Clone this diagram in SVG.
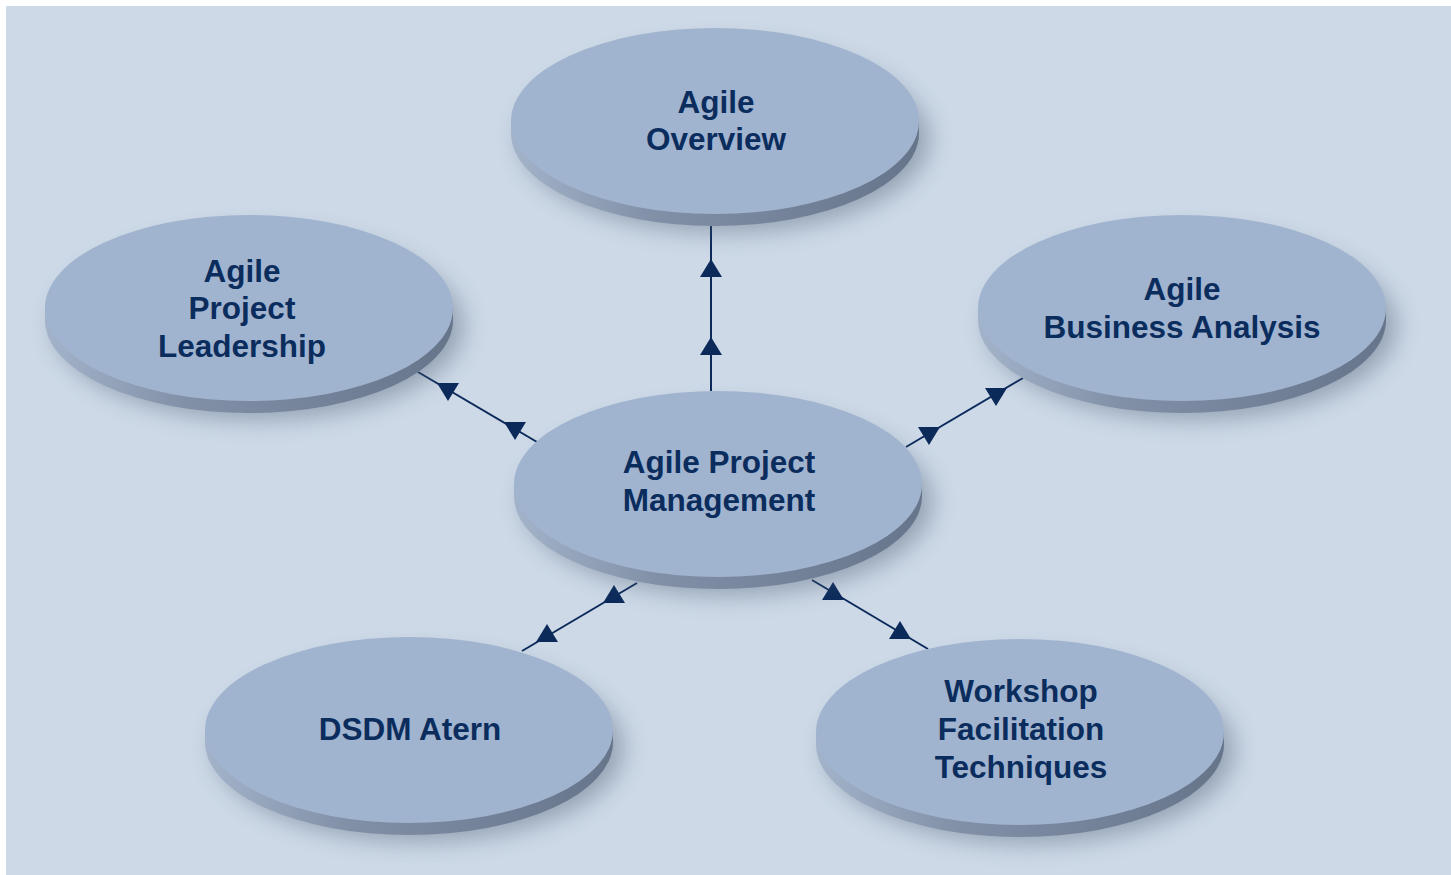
<svg xmlns="http://www.w3.org/2000/svg" xmlns:xlink="http://www.w3.org/1999/xlink" width="1451" height="875" viewBox="0 0 1451 875">
<style>
.face{fill:#a1b4cf;}
.side{fill:url(#sideGrad);}
.shadow{fill:#4a5a70;opacity:0.45;filter:url(#blur);}
.lbl{font-family:"Liberation Sans",Arial,sans-serif;font-weight:bold;font-size:31.5px;fill:#0b2d5e;text-anchor:middle;}
.conn line{stroke:#0b2a5a;stroke-width:2;}
.conn use{fill:#0b2a5a;}
</style>
<defs>
<linearGradient id="sideGrad" x1="0" y1="0" x2="1" y2="0">
<stop offset="0" stop-color="#a3b3ca"/>
<stop offset="0.35" stop-color="#8190a7"/>
<stop offset="1" stop-color="#66758a"/>
</linearGradient>
<filter id="blur" x="-20%" y="-30%" width="140%" height="160%">
<feGaussianBlur stdDeviation="12"/>
</filter>
<polygon id="up" points="0,-12 11,6 -11,6"/>
<polygon id="down" points="-11,-6 11,-6 0,12"/>
<g id="disc">
<ellipse class="shadow" cx="10" cy="18" rx="204" ry="93"/>
<ellipse class="side" cx="0" cy="12" rx="204" ry="93"/>
<rect class="side" x="-204" y="0" width="408" height="12"/>
<ellipse class="face" cx="0" cy="0" rx="204" ry="93"/>
</g>
</defs>
<rect x="0" y="0" width="1451" height="875" fill="#ffffff"/>
<rect x="6" y="6" width="1445" height="869" fill="#cdd9e7"/>

<g id="connectors" class="conn">
<line x1="711" y1="226" x2="711" y2="391"/>
<use xlink:href="#up" x="711" y="271"/>
<use xlink:href="#up" x="711" y="349"/>
<line x1="418" y1="372" x2="537" y2="442"/>
<use xlink:href="#down" x="448" y="389"/>
<use xlink:href="#down" x="515" y="428"/>
<line x1="906" y1="447" x2="1023" y2="378"/>
<use xlink:href="#down" x="929" y="433"/>
<use xlink:href="#down" x="996" y="394"/>
<line x1="522" y1="651" x2="637" y2="583"/>
<use xlink:href="#up" x="614" y="597"/>
<use xlink:href="#up" x="547" y="636"/>
<line x1="812" y1="580" x2="928" y2="649"/>
<use xlink:href="#up" x="833" y="594"/>
<use xlink:href="#up" x="900" y="633"/>
</g>

<g id="node-overview">
<use xlink:href="#disc" x="715" y="121"/>
<text class="lbl" x="716" y="113">Agile</text>
<text class="lbl" x="716" y="150">Overview</text>
</g>
<g id="node-leadership">
<use xlink:href="#disc" x="249" y="308"/>
<text class="lbl" x="242" y="282">Agile</text>
<text class="lbl" x="242" y="319">Project</text>
<text class="lbl" x="242" y="357">Leadership</text>
</g>
<g id="node-business">
<use xlink:href="#disc" x="1182" y="308"/>
<text class="lbl" x="1182" y="300">Agile</text>
<text class="lbl" x="1182" y="338">Business Analysis</text>
</g>
<g id="node-center">
<use xlink:href="#disc" x="718" y="484"/>
<text class="lbl" x="719" y="473">Agile Project</text>
<text class="lbl" x="719" y="511">Management</text>
</g>
<g id="node-dsdm">
<use xlink:href="#disc" x="409" y="730"/>
<text class="lbl" x="410" y="740">DSDM Atern</text>
</g>
<g id="node-workshop">
<use xlink:href="#disc" x="1020" y="732"/>
<text class="lbl" x="1021" y="702">Workshop</text>
<text class="lbl" x="1021" y="740">Facilitation</text>
<text class="lbl" x="1021" y="778">Techniques</text>
</g>
</svg>
